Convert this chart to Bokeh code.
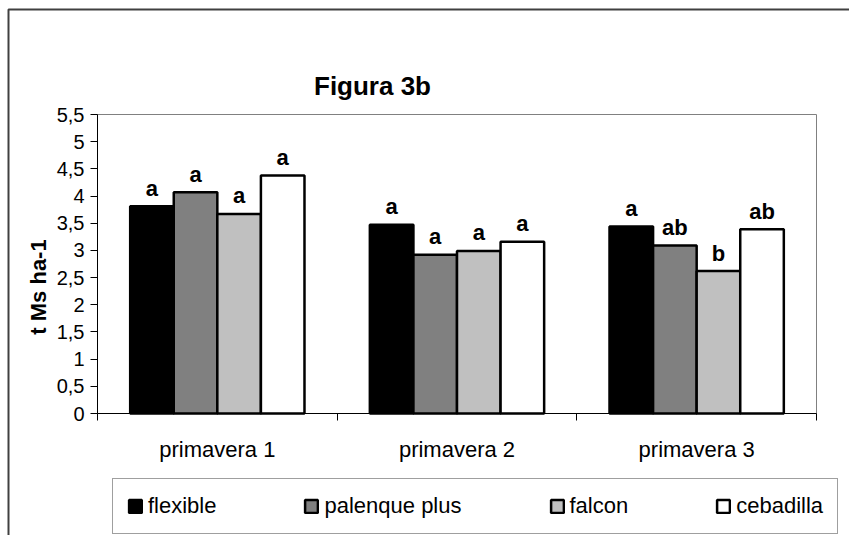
import math
from bokeh.plotting import figure
from bokeh.models import (Range1d, FixedTicker, Label, BoxAnnotation, Legend,
                          LegendItem, ColumnDataSource)
from bokeh.transform import dodge
from bokeh.embed import file_html
from bokeh.resources import INLINE
from bokeh.core.properties import value

# ---------------- data ----------------
categories = ["primavera 1", "primavera 2", "primavera 3"]
series_names = ["flexible", "palenque plus", "falcon", "cebadilla"]
flexible = [3.81, 3.47, 3.44]
palenque_plus = [4.07, 2.92, 3.09]
falcon = [3.67, 2.99, 2.62]
cebadilla = [4.38, 3.16, 3.39]
letters_flexible = ["a", "a", "a"]
letters_palenque_plus = ["a", "a", "ab"]
letters_falcon = ["a", "a", "b"]
letters_cebadilla = ["a", "a", "ab"]
y_ticks = [0, 0.5, 1, 1.5, 2, 2.5, 3, 3.5, 4, 4.5, 5, 5.5]
y_tick_labels = ["0", "0,5", "1", "1,5", "2", "2,5", "3", "3,5", "4", "4,5", "5", "5,5"]
title_text = "Figura 3b"
y_label_text = "t Ms ha-1"

series_values = [flexible, palenque_plus, falcon, cebadilla]
series_letters = [letters_flexible, letters_palenque_plus, letters_falcon, letters_cebadilla]
series_colors = ["#000000", "#808080", "#C0C0C0", "#FFFFFF"]

FONT = "Liberation Sans"

# ---------------- geometry (pixels) ----------------
W, H = 849, 535
PLOT_L, PLOT_R, PLOT_T, PLOT_B = 97, 816, 114, 413
Y_MAX = 5.5
NCAT = len(categories)
XS = (PLOT_R - PLOT_L) / NCAT
YS = (PLOT_B - PLOT_T) / Y_MAX

def px_x(px):
    return (px - PLOT_L) / XS

def px_y(py):
    return (PLOT_B - py) / YS

p = figure(width=W, height=H,
           x_range=Range1d(px_x(0), px_x(W)), y_range=Range1d(px_y(H), px_y(0)),
           output_backend="svg", toolbar_location=None, min_border=0)
p.title.visible = False
p.background_fill_color = "white"
p.border_fill_color = "white"
p.outline_line_color = None
p.xgrid.visible = False
p.ygrid.visible = False

# plot-area border (gray, top/right visible)
p.add_layout(BoxAnnotation(left=0, right=NCAT, bottom=0, top=Y_MAX, level="underlay",
                           fill_color=None, fill_alpha=0,
                           line_color="#808080", line_alpha=1, line_width=1))

centers = [i + 0.5 for i in range(NCAT)]
n = len(series_names)
bar_w = 1.0 / (n + 1.5)  # Excel gap width 150%

data = {"x": centers}
for i in range(n):
    data["v%d" % i] = series_values[i]
    data["l%d" % i] = series_letters[i]
src = ColumnDataSource(data)

renderers = []
for i in range(n):
    off = (i - (n - 1) / 2.0) * bar_w
    r = p.vbar(x=dodge("x", off), top="v%d" % i, width=bar_w, source=src,
               fill_color=series_colors[i], line_color="black", line_width=2.5)
    renderers.append(r)
    p.text(x=dodge("x", off), y="v%d" % i, text="l%d" % i, source=src,
           text_align="center", text_baseline="alphabetic", y_offset=-18,
           text_font=value(FONT), text_font_size="22px", text_font_style="bold",
           text_color="black")

# ---------------- axes (drawn at data 0) ----------------
xa = p.xaxis[0]
xa.fixed_location = 0
xa.bounds = (0, NCAT)
xa.ticker = FixedTicker(ticks=centers, minor_ticks=list(range(NCAT + 1)))
xa.major_label_overrides = {c: lab for c, lab in zip(centers, categories)}
xa.major_tick_line_color = None
xa.major_tick_out = 0
xa.major_tick_in = 0
xa.minor_tick_line_color = "black"
xa.minor_tick_out = 7
xa.minor_tick_in = 0
xa.axis_line_color = "black"
xa.major_label_standoff = 16
xa.major_label_text_font = FONT
xa.major_label_text_font_size = "22px"
xa.major_label_text_color = "black"

ya = p.yaxis[0]
ya.fixed_location = 0
ya.bounds = (0, Y_MAX)
ya.ticker = FixedTicker(ticks=y_ticks, minor_ticks=[])
ya.major_label_overrides = {t: lab for t, lab in zip(y_ticks, y_tick_labels)}
ya.major_tick_out = 7
ya.major_tick_in = 0
ya.major_tick_line_color = "black"
ya.minor_tick_line_color = None
ya.axis_line_color = "black"
ya.major_label_standoff = 6
ya.major_label_text_font = FONT
ya.major_label_text_font_size = "20px"
ya.major_label_text_color = "black"

# ---------------- texts ----------------
p.add_layout(Label(x=px_x(372), y=px_y(85), text=title_text,
                   text_align="center", text_baseline="alphabetic",
                   text_font=FONT, text_font_size="26px", text_font_style="bold",
                   text_color="black"))
p.add_layout(Label(x=px_x(38), y=px_y(286.5), text=y_label_text,
                   angle=math.pi / 2, text_align="center", text_baseline="middle",
                   text_font=FONT, text_font_size="22px", text_font_style="bold",
                   text_color="black"))

# ---------------- outer chart border ----------------
p.add_layout(BoxAnnotation(left=px_x(8), right=px_x(3000), top=px_y(9), bottom=px_y(3000),
                           fill_color=None, fill_alpha=0,
                           line_color="#404040", line_alpha=1, line_width=2))

# ---------------- legend ----------------
legend = Legend(items=[LegendItem(label=nm, renderers=[r]) for nm, r in zip(series_names, renderers)],
                orientation="horizontal", location=(112, H - 534),
                border_line_color="#404040", border_line_width=1,
                background_fill_color="white", background_fill_alpha=1,
                padding=14, margin=0, spacing=87,
                glyph_width=16, glyph_height=16, label_standoff=5,
                label_height=22, label_text_font=FONT, label_text_font_size="22px",
                label_text_color="black")
p.add_layout(legend)

open("out.html", "w").write(file_html(p, INLINE))
